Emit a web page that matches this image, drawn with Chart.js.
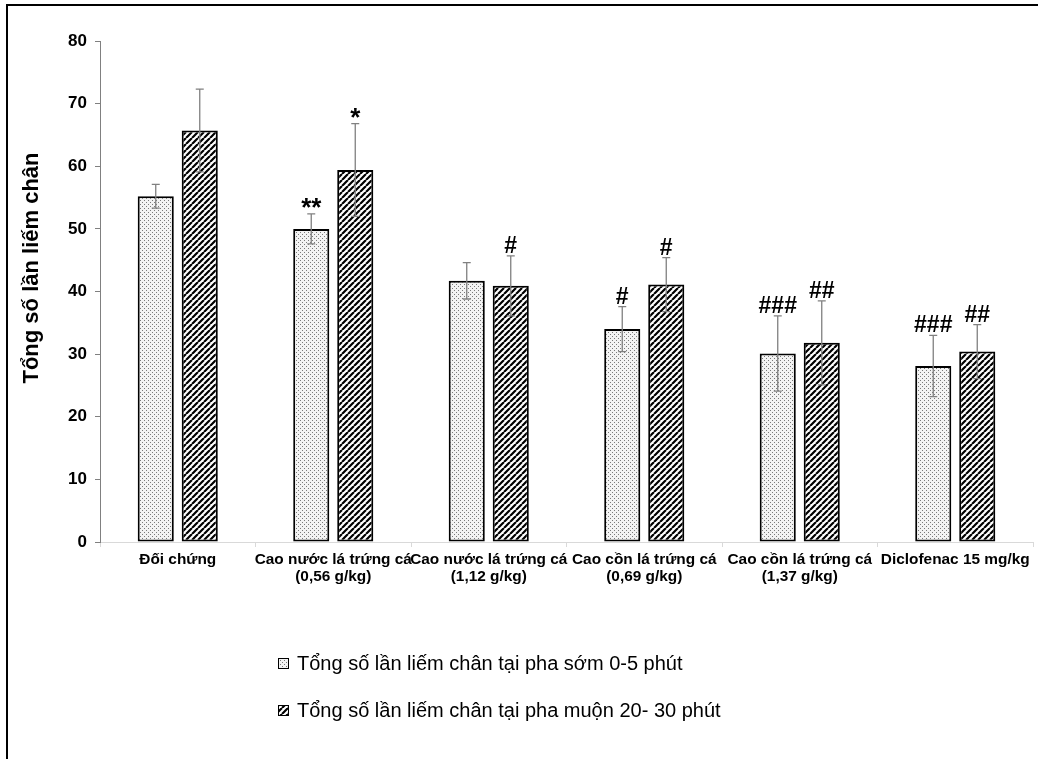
<!DOCTYPE html>
<html>
<head>
<meta charset="utf-8">
<script src="https://cdn.jsdelivr.net/npm/chart.js@4.4.0/dist/chart.umd.min.js"></script>
<style>
  html, body { margin: 0; padding: 0; background: #fff; overflow: hidden; }
  #wrap { position: relative; width: 1038px; height: 759px; }
  #frame { position: absolute; left: 6px; top: 4px; width: 1200px; height: 1000px;
           border-left: 2px solid #000; border-top: 2px solid #000; box-sizing: border-box; pointer-events: none; }
  canvas { position: absolute; left: 0; top: 0; }
</style>
</head>
<body>
<div id="wrap">
  <canvas id="c" width="1038" height="759"></canvas>
  <div id="frame"></div>
</div>
<script>
// Treatment groups (x-axis categories, two lines each)
const groups = [
  ["Đối chứng"],
  ["Cao nước lá trứng cá", "(0,56 g/kg)"],
  ["Cao nước lá trứng cá", "(1,12 g/kg)"],
  ["Cao cồn lá trứng cá", "(0,69 g/kg)"],
  ["Cao cồn lá trứng cá", "(1,37 g/kg)"],
  ["Diclofenac 15 mg/kg"]
];

// Series names
const earlyName = "Tổng số lần liếm chân tại pha sớm 0-5 phút";
const lateName = "Tổng số lần liếm chân tại pha muộn 20- 30 phút";

// Mean paw-licking counts and their standard deviations
const earlyPhase = [55.2, 50.0, 41.7, 34.0, 30.1, 28.1];
const earlyErr   = [1.9, 2.4, 2.9, 3.6, 6.0, 4.9];
const latePhase  = [65.7, 59.4, 40.9, 41.1, 31.8, 30.4];
const lateErr    = [6.6, 7.4, 4.8, 4.3, 6.7, 4.3];

// Significance markers above each bar
const earlyMarks = ["", "**", "", "#", "###", "###"];
const lateMarks  = ["", "*", "#", "#", "##", "##"];

// Y axis
const yTitle = "Tổng số lần liếm chân";
const yMin = 0, yMax = 80, yStep = 10;

const FONT = '"Liberation Sans", Arial, sans-serif';

// Fill patterns: fine dots and forward diagonal hatching
function dotPattern() {
  const t = document.createElement('canvas');
  t.width = 4; t.height = 4;
  const g = t.getContext('2d');
  g.fillStyle = '#f3f3f3'; g.fillRect(0, 0, 4, 4);
  g.fillStyle = '#7a7a7a';
  g.fillRect(0, 0, 1, 1);
  g.fillRect(2, 2, 1, 1);
  return g.createPattern(t, 'repeat');
}
function hatchPattern() {
  const s = 6;
  const t = document.createElement('canvas');
  t.width = s; t.height = s;
  const g = t.getContext('2d');
  g.fillStyle = '#fff'; g.fillRect(0, 0, s, s);
  g.strokeStyle = '#000'; g.lineWidth = 2.2;
  g.beginPath();
  for (const k of [-s, 0, s]) { g.moveTo(k, s); g.lineTo(k + s, 0); }
  g.stroke();
  return g.createPattern(t, 'repeat');
}
const dots = dotPattern();
const hatch = hatchPattern();

// Error bars and significance markers drawn on top of the bars
const errorBars = {
  id: 'errorBars',
  afterDatasetsDraw(chart) {
    const ctx = chart.ctx;
    const y = chart.scales.y;
    chart.data.datasets.forEach((ds, di) => {
      const meta = chart.getDatasetMeta(di);
      meta.data.forEach((bar, i) => {
        const v = ds.data[i], e = ds.errors[i];
        const yt = y.getPixelForValue(v + e), yb = y.getPixelForValue(v - e);
        ctx.save();
        ctx.strokeStyle = '#808080';
        ctx.lineWidth = 1.3;
        ctx.beginPath();
        ctx.moveTo(bar.x, yt); ctx.lineTo(bar.x, yb);
        ctx.moveTo(bar.x - 4, yt); ctx.lineTo(bar.x + 4, yt);
        ctx.moveTo(bar.x - 4, yb); ctx.lineTo(bar.x + 4, yb);
        ctx.stroke();
        const m = ds.marks[i];
        if (m) {
          ctx.fillStyle = '#000';
          ctx.textAlign = 'center';
          ctx.textBaseline = 'alphabetic';
          if (m.startsWith('*')) {
            ctx.font = 'bold 26px ' + FONT;
            ctx.fillText(m, bar.x, yt + 2);
          } else {
            ctx.font = 'bold 23px ' + FONT;
            ctx.fillText(m, bar.x, yt - 3);
          }
        }
        ctx.restore();
      });
    });
  }
};

// Rotated y-axis title
const yAxisTitle = {
  id: 'yAxisTitle',
  afterDraw(chart) {
    const ctx = chart.ctx;
    ctx.save();
    ctx.translate(38, 268);
    ctx.rotate(-Math.PI / 2);
    ctx.fillStyle = '#000';
    ctx.font = 'bold 22px ' + FONT;
    ctx.textAlign = 'center';
    ctx.textBaseline = 'alphabetic';
    ctx.fillText(yTitle, 0, 0);
    ctx.restore();
  }
};

// Legend stacked below the chart
const stackedLegend = {
  id: 'stackedLegend',
  afterDraw(chart) {
    const ctx = chart.ctx;
    const baselines = [670, 717];
    chart.data.datasets.forEach((ds, di) => {
      const b = baselines[di];
      ctx.save();
      ctx.fillStyle = ds.backgroundColor;
      ctx.fillRect(278, b - 12, 11, 11);
      ctx.strokeStyle = '#000';
      ctx.lineWidth = 1;
      ctx.strokeRect(278.5, b - 11.5, 10, 10);
      ctx.fillStyle = '#000';
      ctx.font = '20px ' + FONT;
      ctx.textBaseline = 'alphabetic';
      ctx.textAlign = 'left';
      ctx.fillText(ds.label, 297, b);
      ctx.restore();
    });
  }
};

const yTickValues = [];
for (let v = yMin; v <= yMax; v += yStep) yTickValues.push(v);

new Chart(document.getElementById('c'), {
  type: 'bar',
  data: {
    labels: groups,
    datasets: [
      { label: earlyName, data: earlyPhase, errors: earlyErr, marks: earlyMarks,
        backgroundColor: dots, borderColor: '#000', borderWidth: 2, borderSkipped: false,
        categoryPercentage: 0.566, barPercentage: 0.82 },
      { label: lateName, data: latePhase, errors: lateErr, marks: lateMarks,
        backgroundColor: hatch, borderColor: '#000', borderWidth: 2, borderSkipped: false,
        categoryPercentage: 0.566, barPercentage: 0.82 }
    ]
  },
  options: {
    responsive: false,
    animation: false,
    devicePixelRatio: 1,
    layout: { padding: { left: 0, right: 5, top: 41, bottom: 167 } },
    plugins: { legend: { display: false }, tooltip: { enabled: false } },
    scales: {
      x: {
        afterFit(s) { s.height = 50; },
        grid: { display: true, drawOnChartArea: false, offset: true, tickLength: 5, color: '#d9d9d9' },
        border: { color: '#d9d9d9', width: 1 },
        ticks: { color: '#000', font: { family: FONT, size: 15.4, weight: 'bold', lineHeight: 1.12 },
                 padding: 4, maxRotation: 0, autoSkip: false }
      },
      y: {
        min: yMin, max: yMax,
        afterFit(s) { s.width = 100; },
        afterBuildTicks(s) { s.ticks = yTickValues.map(v => ({ value: v })); },
        grid: { display: true, drawOnChartArea: false, tickLength: 5, color: '#808080' },
        border: { color: '#808080', width: 1 },
        ticks: { color: '#000', font: { family: FONT, size: 17, weight: 'bold' }, padding: 8 }
      }
    }
  },
  plugins: [errorBars, yAxisTitle, stackedLegend]
});
</script>
</body>
</html>
